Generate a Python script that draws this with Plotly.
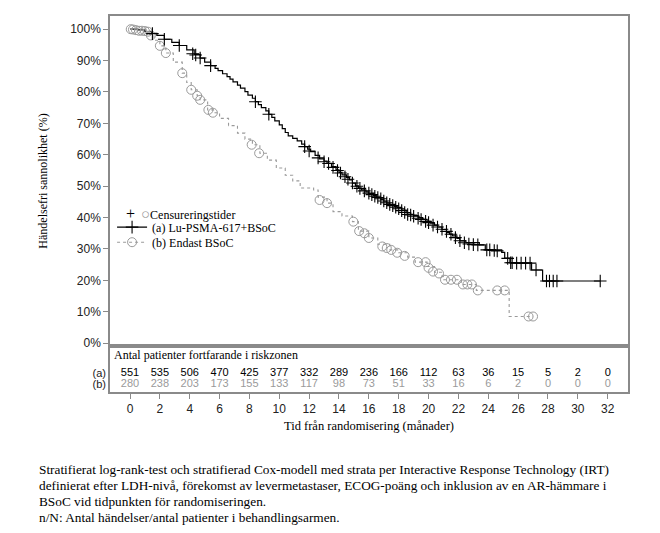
import plotly.graph_objects as go
from plotly.subplots import make_subplots

# Kaplan-Meier steps (months, % event free)
a_time = [0, 0.5, 1.0, 1.45, 1.8, 2.3, 2.8, 3.3, 3.8, 4.3, 4.7, 5.0, 5.4, 5.7, 5.9, 6.2, 6.5,
          6.7, 6.9, 7.2, 7.4, 7.7, 7.9, 8.2, 8.4, 8.6, 8.8, 9.1, 9.3, 9.5, 9.7, 10.0, 10.2,
          10.4, 10.6, 10.9, 11.2, 11.5, 11.7, 11.9, 12.1, 12.4, 12.7, 13.0, 13.2, 13.5, 13.8,
          14.0, 14.2, 14.5, 14.7, 14.9, 15.1, 15.3, 15.5, 15.8, 16.0, 16.3, 16.5, 16.8, 17.0,
          17.2, 17.4, 17.7, 17.9, 18.2, 18.5, 18.8, 19.0, 19.3, 19.6, 19.9, 20.1, 20.4, 20.6,
          20.9, 21.2, 21.4, 21.6, 21.9, 22.1, 22.5, 23.4, 23.8, 24.9, 25.1, 25.45, 26.9,
          27.64, 31.5]
a_surv = [100, 99.8, 99.2, 98.7, 98.0, 96.8, 95.8, 94.8, 93.4, 92.0, 90.8, 89.5, 88.4, 87.5,
          86.8, 85.8, 84.9, 84.1, 83.2, 82.2, 81.2, 80.1, 79.0, 78.0, 76.9, 76.0, 75.0, 74.0,
          72.9, 71.9, 70.8, 69.5, 68.3, 67.1, 66.0, 65.2, 64.4, 63.4, 62.6, 61.8, 61.0, 59.8,
          58.7, 58.0, 57.3, 56.2, 55.2, 54.4, 53.6, 52.8, 52.0, 51.0, 50.1, 49.4, 48.8, 48.2,
          47.6, 47.0, 46.4, 45.8, 45.2, 44.6, 44.0, 43.6, 43.2, 42.4, 41.5, 41.0, 40.6, 40.0,
          39.4, 38.8, 38.2, 37.6, 37.0, 36.2, 35.2, 34.7, 34.2, 33.4, 32.6, 32.0, 31.3, 29.7,
          28.9, 27.1, 25.6, 23.3, 19.8, 19.8]

a_cens_time = [1.5, 2.3, 3.3, 4.2, 4.4, 4.7, 5.4, 8.4, 9.3, 11.7, 12.0, 12.6, 13.0, 13.3, 13.6,
               13.9, 14.1, 14.4, 14.6, 14.9, 15.2, 15.4, 15.7, 16.0, 16.2, 16.4, 16.6, 16.8,
               17.0, 17.2, 17.4, 17.6, 17.8, 18.0, 18.2, 18.4, 18.6, 18.8, 19.0, 19.3, 19.5,
               19.8, 20.0, 20.3, 20.6, 20.9, 21.2, 21.5, 21.8, 22.1, 22.4, 22.7, 23.0, 23.3,
               23.9, 24.1, 24.4, 24.6, 25.3, 25.5, 25.6, 25.9, 26.2, 26.5, 26.8, 27.2, 27.9,
               28.1, 28.35, 28.6, 31.5]
a_cens_surv = [98.6, 96.8, 94.8, 92.2, 91.8, 90.8, 88.4, 76.9, 72.9, 62.6, 61.2, 59.0, 57.8,
               57.2, 56.0, 55.0, 54.2, 53.0, 52.2, 51.0, 50.0, 49.3, 48.5, 47.8, 47.3, 46.8,
               46.4, 46.0, 45.3, 44.7, 44.2, 43.8, 43.3, 42.8, 42.2, 41.6, 41.0, 40.8, 40.4,
               39.8, 39.4, 38.8, 38.4, 37.6, 37.0, 36.3, 35.6, 34.7, 33.6, 32.6, 32.0, 31.6,
               31.4, 31.3, 29.7, 29.7, 29.5, 29.4, 27.0, 25.6, 25.6, 25.5, 25.5, 25.5, 25.5,
               23.3, 19.8, 19.8, 19.8, 19.8, 19.8]

b_time = [0, 0.5, 1.0, 1.3, 1.6, 2.0, 2.4, 2.9, 3.5, 3.8, 4.1, 4.5, 4.7, 5.2, 5.6, 6.0, 6.6,
          7.2, 7.7, 8.2, 8.7, 9.2, 9.8, 10.4, 10.9, 11.4, 12.3, 12.6, 13.2, 13.6, 14.2, 14.9,
          15.3, 16.0, 16.6, 17.4, 18.0, 18.6, 19.1, 19.9, 20.4, 20.9, 21.0, 22.2, 23.2, 25.4,
          27.0]
b_surv = [100, 99.7, 99.3, 98.3, 96.5, 94.7, 92.4, 89.5, 86.0, 83.0, 80.7, 78.8, 77.5, 74.3,
          73.4, 71.6, 69.3, 66.9, 65.0, 63.2, 60.5, 58.3, 55.8, 53.5, 51.7, 49.4, 48.8, 46.5,
          44.6, 41.9, 40.5, 38.7, 35.7, 33.5, 31.5, 29.7, 28.8, 27.4, 25.8, 24.4, 22.6, 21.2,
          20.2, 18.7, 16.8, 8.5, 8.5]

b_cens_time = [0.05, 0.2, 0.4, 0.6, 0.8, 1.0, 1.2, 1.4, 2.0, 2.4, 3.5, 4.1, 4.5, 4.7, 5.25,
               5.55, 8.15, 8.65, 12.7, 13.2, 14.96, 15.35, 15.7, 16.0, 16.9, 17.2, 17.5, 17.9,
               18.4, 19.3, 19.8, 20.0, 20.3, 20.7, 21.1, 21.5, 21.9, 22.3, 22.6, 22.9, 23.3,
               24.6, 25.1, 26.7, 27.0]
b_cens_surv = [100, 99.9, 99.7, 99.5, 99.5, 99.4, 99.2, 98.0, 94.7, 92.4, 86.0, 80.7, 78.8,
               77.5, 74.3, 73.4, 63.2, 60.5, 45.6, 44.6, 38.7, 35.7, 35.0, 33.5, 30.8, 30.3,
               29.7, 28.8, 27.8, 25.8, 25.8, 24.0, 22.8, 22.2, 20.2, 20.2, 20.2, 18.7, 18.7,
               18.7, 16.8, 16.8, 16.8, 8.5, 8.5]

# number at risk table
risk_time = [0, 2, 4, 6, 8, 10, 12, 14, 16, 18, 20, 22, 24, 26, 28, 30, 32]
risk_a = [551, 535, 506, 470, 425, 377, 332, 289, 236, 166, 112, 63, 36, 15, 5, 2, 0]
risk_b = [280, 238, 203, 173, 155, 133, 117, 98, 73, 51, 33, 16, 6, 2, 0, 0, 0]

y_ticks = list(range(0, 101, 10))
y_labels = [f"{v}%" for v in y_ticks]

footnote = [
    "Stratifierat log-rank-test och stratifierad Cox-modell med strata per Interactive Response Technology (IRT)",
    "definierat efter LDH-nivå, förekomst av levermetastaser, ECOG-poäng och inklusion av en AR-hämmare i",
    "BSoC vid tidpunkten för randomiseringen.",
    "n/N: Antal händelser/antal patienter i behandlingsarmen.",
]

serif = "Liberation Serif, Times New Roman, serif"
sans = "Liberation Sans, Arial, sans-serif"
frame = "#8a8a8a"
grey = "#9a9a9a"

fig = make_subplots(rows=2, cols=1, shared_xaxes=True, vertical_spacing=0,
                    row_heights=[330, 46])

# curves
fig.add_trace(go.Scatter(x=a_time, y=a_surv, mode="lines", line_shape="hv",
                         line=dict(color="black", width=1.2), showlegend=False), row=1, col=1)
fig.add_trace(go.Scatter(x=b_time, y=b_surv, mode="lines", line_shape="hv",
                         line=dict(color=grey, width=1.1, dash="3px,3px"),
                         showlegend=False), row=1, col=1)
# censoring marks
fig.add_trace(go.Scatter(x=b_cens_time, y=b_cens_surv, mode="markers", showlegend=False,
                         marker=dict(symbol="circle-open", size=9, color=grey,
                                     line=dict(width=1, color=grey))), row=1, col=1)
fig.add_trace(go.Scatter(x=a_cens_time, y=a_cens_surv, mode="markers", showlegend=False,
                         marker=dict(symbol="cross-thin", size=9,
                                     line=dict(width=1.1, color="black"))), row=1, col=1)

# legend entries, one legend per row so the rows sit tight
fig.add_trace(go.Scatter(x=[None], y=[None], mode="lines+markers", legend="legend",
                         name="(a) Lu-PSMA-617+BSoC",
                         line=dict(color="black", width=1.2),
                         marker=dict(symbol="cross-thin", size=9,
                                     line=dict(width=1.1, color="black"))), row=1, col=1)
fig.add_trace(go.Scatter(x=[None], y=[None], mode="lines+markers", legend="legend2",
                         name="(b) Endast BSoC",
                         line=dict(color=grey, width=1.1, dash="3px,3px"),
                         marker=dict(symbol="circle-open", size=9, color=grey,
                                     line=dict(width=1, color=grey))), row=1, col=1)

# at-risk numbers
fig.add_trace(go.Scatter(x=risk_time, y=[0.41] * len(risk_time), mode="text",
                         text=[str(v) for v in risk_a], showlegend=False, cliponaxis=False,
                         textfont=dict(family=sans, size=11, color="black")), row=2, col=1)
fig.add_trace(go.Scatter(x=risk_time, y=[0.17] * len(risk_time), mode="text",
                         text=[str(v) for v in risk_b], showlegend=False, cliponaxis=False,
                         textfont=dict(family=sans, size=11, color=grey)), row=2, col=1)

axis_common = dict(showline=True, mirror=True, linecolor=frame, linewidth=1.5,
                   showgrid=False, zeroline=False, tickcolor=frame, automargin=False,
                   tickfont=dict(family=sans, size=12, color="#222"))

fig.update_xaxes(range=[-1.34, 33.36], **axis_common)
fig.update_xaxes(showticklabels=False, ticks="", row=1, col=1)
fig.update_xaxes(tickvals=risk_time, ticks="outside", ticklen=5, row=2, col=1,
                 title=dict(text="Tid från randomisering (månader)", standoff=6,
                            font=dict(family=serif, size=12.5, color="black")))

fig.update_yaxes(**axis_common)
fig.update_yaxes(range=[-0.9, 104.2], tickvals=y_ticks, ticktext=y_labels, ticks="outside",
                 ticklen=5, row=1, col=1,
                 title=dict(text="Händelsefri sannolikhet (%)", standoff=20,
                            font=dict(family=serif, size=12, color="black")))
fig.update_yaxes(range=[0, 1], tickvals=[0.41, 0.17], ticktext=["(a)", "(b)"], ticks="",
                 tickfont=dict(family=sans, size=11, color="#222"), row=2, col=1)

fig.add_annotation(text="Antal patienter fortfarande i riskzonen", xref="x2 domain", yref="y2",
                   x=0.003, y=0.8, xanchor="left", yanchor="middle", showarrow=False,
                   font=dict(family=serif, size=12, color="black"))

# first legend row: both censoring symbols
fig.add_annotation(text=("<span style='font-size:16px'>+</span>\u00a0\u00a0"
                         "<span style='color:#9a9a9a;font-size:15px'>○</span>Censureringstider"),
                   xref="paper", yref="paper", x=0.027, y=0.476, xanchor="left",
                   yanchor="middle", showarrow=False,
                   font=dict(family=serif, size=12, color="black"))

for i, line in enumerate(footnote):
    fig.add_annotation(text=line, xref="paper", yref="paper", x=-0.141,
                       y=-0.205 - i * 0.0425, xanchor="left", yanchor="middle",
                       showarrow=False, font=dict(family=serif, size=13.3, color="black"))

legend_style = dict(xanchor="left", yanchor="top", bgcolor="rgba(0,0,0,0)",
                    font=dict(family=serif, size=12, color="black"), itemwidth=30)

# the page body adds 8px on the left and top, so the margins make up for it
fig.update_layout(
    width=660, height=533,
    margin=dict(l=102, r=40, t=8, b=149),
    paper_bgcolor="white", plot_bgcolor="white",
    legend=dict(x=0.004, y=0.477, **legend_style),
    legend2=dict(x=0.004, y=0.437, **legend_style),
)

fig.write_html("out.html")
